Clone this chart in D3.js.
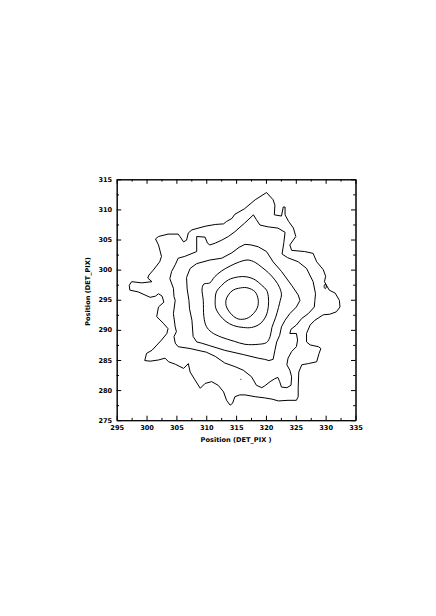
<!DOCTYPE html>
<html><head><meta charset="utf-8">
<script src="https://cdn.jsdelivr.net/npm/d3@7"></script>
<style>
html,body{margin:0;padding:0;background:#fff;}
text{font-family:"DejaVu Sans",sans-serif;fill:#000;}
</style></head>
<body>
<svg id="chart" width="436" height="616"></svg>
<script>
// ---- data (DET_PIX units) ----
const xTickValues = [295,300,305,310,315,320,325,330,335];
const yTickValues = [275,280,285,290,295,300,305,310,315];
const xMinorTicks = [297.5,302.5,307.5,312.5,317.5,322.5,327.5,332.5];
const yMinorTicks = [277.5,282.5,287.5,292.5,297.5,302.5,307.5,312.5];
const xTitle = "Position  (DET_PIX )";
const yTitle = "Position  (DET_PIX)";

const level1 = [[320.1,312.8],[321.2,311.6],[321.5,310.7],[321.4,309.1],[322.6,308.9],[322.9,310.4],[323.2,310.4],[323.2,309.1],[323.8,308.0],[324.6,306.9],[325.0,305.5],[324.0,304.1],[324.3,303.2],[326.5,303.0],[327.9,302.7],[328.5,301.3],[329.6,300.0],[330.0,298.9],[329.8,298.0],[330.6,296.6],[331.6,296.1],[332.3,294.9],[332.4,293.8],[331.8,293.0],[330.7,292.6],[329.6,292.5],[328.2,291.6],[327.4,290.8],[326.8,289.4],[326.8,288.0],[327.4,287.5],[328.8,287.2],[329.2,286.9],[328.9,286.1],[328.5,284.7],[327.1,284.4],[326.0,284.2],[325.5,283.0],[325.4,280.5],[325.4,278.9],[325.1,278.3],[323.7,278.3],[322.1,278.2],[321.0,278.5],[319.8,278.7],[318.2,278.9],[316.5,279.2],[315.6,279.2],[314.8,278.9],[314.4,277.8],[314.0,277.5],[313.4,278.3],[312.9,279.7],[312.0,280.8],[310.9,281.4],[309.8,281.1],[309.0,280.3],[308.1,281.7],[307.3,283.0],[307.0,284.4],[306.2,283.6],[304.8,284.3],[303.7,284.7],[303.1,285.3],[302.0,285.0],[300.6,284.8],[299.7,284.9],[300.0,286.1],[300.9,286.6],[302.5,288.3],[303.4,289.4],[303.6,290.2],[302.8,291.1],[301.7,292.2],[302.0,293.8],[302.9,294.6],[302.6,295.6],[302.0,296.0],[301.5,295.6],[300.6,295.4],[298.6,296.3],[297.2,296.6],[297.1,297.4],[297.5,298.0],[299.2,297.8],[300.9,298.0],[300.2,298.6],[300.4,299.1],[301.1,299.9],[302.2,301.3],[302.5,302.2],[302.0,304.1],[301.5,305.1],[302.0,305.5],[303.6,305.9],[305.3,305.9],[305.6,305.5],[306.2,304.6],[306.7,304.9],[307.0,306.1],[307.6,306.6],[309.8,307.2],[311.5,307.5],[312.9,307.6],[313.4,308.0],[314.3,308.5],[314.8,309.2],[316.4,310.1],[318.2,311.6]];
const level2 = [[317.9,309.1],[318.4,308.3],[319.0,307.4],[320.4,307.1],[322.0,306.9],[323.2,306.2],[323.0,304.5],[322.7,302.6],[323.6,302.0],[325.4,301.3],[326.8,300.2],[327.9,298.0],[328.3,296.0],[328.2,294.9],[328.1,293.8],[327.1,292.7],[326.0,291.9],[325.1,290.8],[324.2,290.1],[324.0,289.4],[325.1,289.4],[325.3,288.3],[325.1,287.2],[324.3,286.4],[323.7,285.3],[323.5,284.2],[324.0,283.3],[324.3,282.2],[324.2,280.8],[323.5,280.4],[322.6,280.5],[322.3,281.4],[322.0,282.1],[321.5,281.9],[320.7,281.4],[319.8,280.7],[319.3,280.4],[318.4,280.8],[317.6,282.2],[316.2,283.3],[314.8,283.9],[313.1,284.5],[311.5,285.6],[310.0,286.3],[308.6,286.6],[307.3,286.9],[305.3,287.2],[304.8,287.8],[304.6,288.9],[305.0,289.7],[304.8,290.5],[304.5,292.7],[304.8,294.9],[304.6,295.5],[304.5,296.9],[303.9,298.5],[304.2,299.7],[304.8,300.8],[305.3,301.9],[306.4,302.2],[308.4,303.0],[308.4,305.5],[309.8,305.4],[310.2,304.4],[310.6,304.1],[311.5,304.4],[312.6,304.9],[313.7,305.5],[314.8,306.3],[316.4,307.7]];
const level3 = [[316.5,304.2],[317.5,304.1],[318.7,303.8],[320.1,303.0],[321.2,301.3],[322.6,299.7],[324.3,297.4],[325.4,295.8],[325.7,294.9],[325.1,293.8],[324.0,292.7],[323.2,291.6],[322.6,290.5],[322.3,289.1],[321.8,288.0],[321.5,286.6],[321.2,285.1],[320.5,284.9],[319.8,285.1],[318.7,285.3],[316.2,285.9],[313.1,286.6],[310.5,287.4],[309.2,287.8],[308.4,288.0],[307.8,288.9],[307.6,291.6],[307.2,293.5],[307.1,294.9],[306.8,296.8],[306.7,298.7],[307.3,300.2],[308.4,301.0],[310.6,301.6],[312.6,301.9],[314.3,302.8],[315.5,303.7]];
const level4 = [[317.0,301.6],[318.2,301.2],[319.3,300.4],[320.4,299.5],[321.5,298.3],[322.3,297.0],[322.6,295.8],[322.4,294.9],[322.1,293.7],[321.6,292.0],[321.0,290.4],[320.7,288.9],[320.1,287.9],[318.7,287.6],[316.5,287.6],[314.7,288.1],[312.5,288.8],[310.9,289.6],[310.0,290.6],[309.6,292.2],[309.5,294.9],[309.3,296.8],[309.6,297.6],[310.6,297.8],[311.4,298.8],[312.6,299.8],[314.0,300.6],[315.6,301.3]];
const level5 = [[316.8,298.8],[318.2,298.3],[319.3,297.4],[320.1,296.6],[320.4,295.5],[320.4,293.9],[320.0,292.3],[319.0,291.0],[317.6,290.4],[316.2,290.4],[314.6,290.7],[313.3,291.4],[312.3,292.4],[311.6,293.6],[311.5,294.9],[311.7,296.3],[312.6,297.4],[313.7,298.3],[315.4,298.8]];
const level6 = [[316.8,297.0],[318.2,296.3],[318.7,295.0],[318.6,293.8],[317.9,292.7],[316.8,291.9],[315.4,291.8],[314.3,292.5],[313.4,293.8],[313.3,294.9],[313.7,295.8],[314.5,296.6],[315.4,296.9]];
const island = [[329.75,297.2],[329.85,297.55],[330.05,297.5],[330.1,297.1],[329.95,296.85],[329.8,296.95]];
const dots = [[315.8,281.8]];

// ---- layout ----
const svg = d3.select("#chart");
const x = d3.scaleLinear().domain([295,335]).range([116.7,355.5]);
const y = d3.scaleLinear().domain([275,315]).range([420.2,179.3]);

const g = svg.append("g");
const FONT = "6.6px";

function styleAxis(sel){
  sel.selectAll("path.domain").attr("stroke","#000").attr("stroke-width",1);
  sel.selectAll(".tick line").attr("stroke","#000").attr("stroke-width",1);
  sel.selectAll(".tick text").style("font-family","DejaVu Sans").style("font-weight","bold")
    .style("font-size",FONT).attr("fill","#000");
}
const fmt = d3.format("d");
// major axes
g.append("g").attr("transform",`translate(0,${y(275)})`)
  .call(d3.axisBottom(x).tickValues(xTickValues).tickFormat(fmt).tickSizeInner(-4.5).tickSizeOuter(0).tickPadding(5))
  .call(styleAxis);
g.append("g").attr("transform",`translate(${x(295)},0)`)
  .call(d3.axisLeft(y).tickValues(yTickValues).tickFormat(fmt).tickSizeInner(-4.5).tickSizeOuter(0).tickPadding(4.5))
  .call(styleAxis);
g.append("g").attr("transform",`translate(0,${y(315)})`)
  .call(d3.axisTop(x).tickValues(xTickValues).tickFormat("").tickSizeInner(-4.5).tickSizeOuter(0))
  .call(styleAxis);
g.append("g").attr("transform",`translate(${x(335)},0)`)
  .call(d3.axisRight(y).tickValues(yTickValues).tickFormat("").tickSizeInner(-4.5).tickSizeOuter(0))
  .call(styleAxis);
// minor ticks
g.append("g").attr("transform",`translate(0,${y(275)})`)
  .call(d3.axisBottom(x).tickValues(xMinorTicks).tickFormat("").tickSizeInner(-2.3).tickSizeOuter(0)).call(styleAxis);
g.append("g").attr("transform",`translate(0,${y(315)})`)
  .call(d3.axisTop(x).tickValues(xMinorTicks).tickFormat("").tickSizeInner(-2.3).tickSizeOuter(0)).call(styleAxis);
g.append("g").attr("transform",`translate(${x(295)},0)`)
  .call(d3.axisLeft(y).tickValues(yMinorTicks).tickFormat("").tickSizeInner(-2.3).tickSizeOuter(0)).call(styleAxis);
g.append("g").attr("transform",`translate(${x(335)},0)`)
  .call(d3.axisRight(y).tickValues(yMinorTicks).tickFormat("").tickSizeInner(-2.3).tickSizeOuter(0)).call(styleAxis);

// titles
g.append("text").attr("x",(x(295)+x(335))/2).attr("y",442).attr("text-anchor","middle")
  .style("font-size",FONT).style("font-weight","bold").text(xTitle);
g.append("text").attr("transform",`translate(89.5,291.5) rotate(-90)`).attr("text-anchor","middle")
  .style("font-size",FONT).style("font-weight","bold").text(yTitle);

// contours
const lineLin = d3.line().x(d=>x(d[0])).y(d=>y(d[1])).curve(d3.curveLinearClosed);
const lineSmooth = d3.line().x(d=>x(d[0])).y(d=>y(d[1])).curve(d3.curveCatmullRomClosed.alpha(0.5));
const cg = g.append("g").attr("fill","none").attr("stroke","#000").attr("stroke-width",1).attr("stroke-linejoin","round");
[level1,level2,level3].forEach(c=>cg.append("path").attr("d",lineLin(c)));
[level4,level5,level6].forEach(c=>cg.append("path").attr("d",lineSmooth(c)));
cg.append("path").attr("d",lineSmooth(island));
g.selectAll("circle.dot").data(dots).enter().append("circle").attr("class","dot")
  .attr("cx",d=>x(d[0])).attr("cy",d=>y(d[1])).attr("r",0.55).attr("fill","#000");
</script>
</body></html>
